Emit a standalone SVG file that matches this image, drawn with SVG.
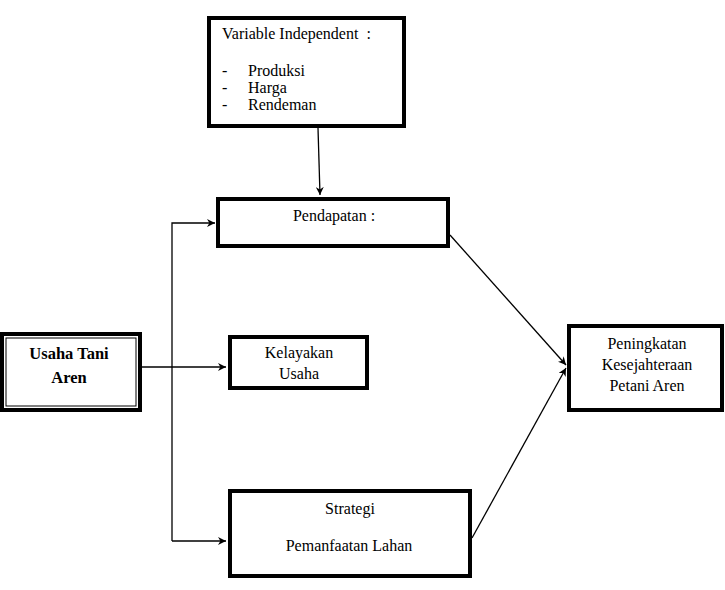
<svg xmlns="http://www.w3.org/2000/svg" width="725" height="590" viewBox="0 0 725 590">
<style>
  .box { fill: #fff; stroke: #000; stroke-width: 4; }
  .t { font-family: "Liberation Serif", "Times New Roman", serif; font-size: 16px; fill: #000; }
  .c { text-anchor: middle; }
  .b { font-weight: bold; font-size: 16.5px; }
  .ln { fill: none; stroke: #000; stroke-width: 1.3; }
</style>
<defs>
  <marker id="ah" viewBox="0 0 10 10" refX="10" refY="5" markerWidth="8" markerHeight="8" markerUnits="userSpaceOnUse" orient="auto">
    <path d="M0,0 L10,5 L0,10 L3,5 Z" fill="#000"/>
  </marker>
</defs>
<rect width="725" height="590" fill="#fff"/>

<g id="connectors">
  <line class="ln" x1="318" y1="128" x2="320" y2="195" marker-end="url(#ah)"/>
  <polyline class="ln" points="172,541 172,223 215,223" marker-end="url(#ah)"/>
  <line class="ln" x1="172" y1="541" x2="226" y2="541" marker-end="url(#ah)"/>
  <line class="ln" x1="142" y1="367" x2="226" y2="367" marker-end="url(#ah)"/>
  <line class="ln" x1="450" y1="235" x2="566" y2="365" marker-end="url(#ah)"/>
  <line class="ln" x1="472" y1="538" x2="566" y2="368" marker-end="url(#ah)"/>
</g>

<g id="variable-independent">
  <rect class="box" x="209" y="18" width="195" height="108"/>
  <text class="t" x="222" y="39">Variable Independent&#160; :</text>
  <text class="t" x="222" y="76">-</text><text class="t" x="248" y="76">Produksi</text>
  <text class="t" x="222" y="93">-</text><text class="t" x="248" y="93">Harga</text>
  <text class="t" x="222" y="110">-</text><text class="t" x="248" y="110">Rendeman</text>
</g>

<g id="pendapatan">
  <rect class="box" x="218" y="199" width="230" height="47"/>
  <text class="t c" x="334" y="221">Pendapatan :</text>
</g>

<g id="usaha-tani-aren">
  <rect x="2" y="334" width="138" height="76" fill="#fff" stroke="#000" stroke-width="4"/>
  <rect x="6" y="338" width="130" height="68" fill="none" stroke="#000" stroke-width="1"/>
  <text class="t c b" x="69" y="359">Usaha Tani</text>
  <text class="t c b" x="69" y="383">Aren</text>
</g>

<g id="kelayakan-usaha">
  <rect class="box" x="230" y="337" width="137" height="51"/>
  <text class="t c" x="299" y="358">Kelayakan</text>
  <text class="t c" x="299" y="379">Usaha</text>
</g>

<g id="strategi">
  <rect class="box" x="230" y="491" width="240" height="85"/>
  <text class="t c" x="350" y="514">Strategi</text>
  <text class="t c" x="349" y="551">Pemanfaatan Lahan</text>
</g>

<g id="peningkatan">
  <rect class="box" x="569" y="326" width="153" height="84"/>
  <text class="t c" x="647" y="349">Peningkatan</text>
  <text class="t c" x="647" y="370">Kesejahteraan</text>
  <text class="t c" x="647" y="391">Petani Aren</text>
</g>
</svg>
